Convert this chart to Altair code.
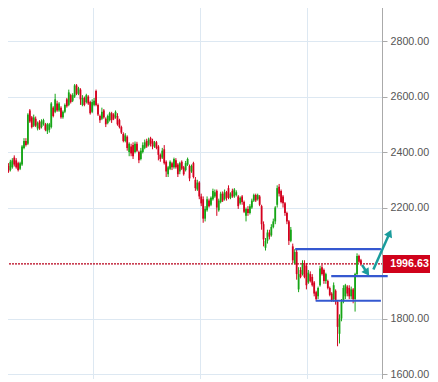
import altair as alt
import pandas as pd

# ---- candle data ----
opens = [
    2320, 2350, 2335, 2345, 2380, 2370, 2360, 2340, 2355, 2415,
    2440, 2430, 2550, 2525, 2495, 2520, 2485, 2510, 2490, 2500,
    2500, 2475, 2480, 2490, 2560, 2545, 2575, 2550, 2560, 2525,
    2545, 2590, 2570, 2605, 2585, 2600, 2640, 2610, 2625, 2570,
    2595, 2580, 2600, 2580, 2545, 2570, 2620, 2570, 2530, 2520,
    2550, 2520, 2505, 2515, 2540, 2535, 2525, 2530, 2515, 2490,
    2465, 2440, 2455, 2400, 2420, 2425, 2400, 2430, 2400, 2375,
    2400, 2415, 2440, 2425, 2450, 2440, 2420, 2435, 2420, 2390,
    2380, 2410, 2365, 2320, 2340, 2360, 2345, 2370, 2355, 2330,
    2365, 2345, 2335, 2355, 2350, 2330, 2360, 2300, 2265, 2290,
    2240, 2230, 2160, 2190, 2225, 2210, 2230, 2240, 2260, 2190,
    2220, 2250, 2230, 2255, 2270, 2235, 2260, 2240, 2245, 2240,
    2215, 2240, 2220, 2170, 2195, 2180, 2200, 2225, 2245, 2230,
    2240, 2205, 2140, 2055, 2080, 2110, 2100, 2130, 2150, 2210,
    2275, 2260, 2240, 2215, 2180, 2150, 2080, 2060, 2000, 2040,
    1905, 1975, 1960, 2000, 1990, 1930, 1960, 1950, 1930, 1895,
    1880, 1920, 1985, 1975, 1935, 1935, 1910, 1890, 1870, 1900,
    1860, 1745, 1800, 1860, 1880, 1915, 1910, 1880, 1905, 1870,
    1960, 2025, 2010,
]
closes = [
    2345, 2330, 2365, 2370, 2355, 2345, 2335, 2360, 2420, 2440,
    2425, 2535, 2510, 2490, 2525, 2495, 2505, 2485, 2510, 2515,
    2480, 2500, 2500, 2575, 2530, 2590, 2550, 2575, 2525, 2545,
    2570, 2565, 2615, 2580, 2605, 2640, 2610, 2630, 2590, 2595,
    2570, 2605, 2575, 2540, 2580, 2585, 2570, 2535, 2515, 2545,
    2525, 2500, 2530, 2540, 2515, 2520, 2545, 2500, 2490, 2470,
    2440, 2460, 2415, 2430, 2395, 2385, 2430, 2405, 2370, 2405,
    2425, 2435, 2420, 2445, 2430, 2420, 2435, 2415, 2390, 2375,
    2405, 2360, 2330, 2345, 2365, 2345, 2375, 2345, 2320, 2360,
    2340, 2320, 2360, 2375, 2305, 2350, 2310, 2270, 2290, 2240,
    2215, 2160, 2195, 2230, 2205, 2235, 2260, 2255, 2200, 2225,
    2250, 2225, 2255, 2235, 2235, 2250, 2240, 2265, 2255, 2205,
    2235, 2220, 2185, 2195, 2180, 2205, 2225, 2245, 2225, 2245,
    2210, 2140, 2085, 2080, 2110, 2095, 2130, 2150, 2200, 2270,
    2250, 2220, 2215, 2180, 2150, 2080, 2120, 2010, 2040, 1960,
    1960, 1950, 1995, 1950, 1920, 1965, 1935, 1920, 1890, 1870,
    1910, 1980, 1960, 1935, 1960, 1910, 1885, 1865, 1920, 1860,
    1770, 1800, 1860, 1910, 1920, 1890, 1880, 1905, 1870, 1960,
    2025, 2005, 1996.63,
]
highs = [
    2350, 2360, 2372, 2378, 2388, 2378, 2365, 2365, 2425, 2450,
    2450, 2540, 2555, 2530, 2535, 2528, 2510, 2515, 2518, 2520,
    2505, 2505, 2505, 2580, 2565, 2610, 2585, 2580, 2565, 2550,
    2575, 2595, 2625, 2610, 2612, 2645, 2645, 2635, 2630, 2605,
    2600, 2610, 2605, 2585, 2590, 2595, 2625, 2575, 2535, 2560,
    2555, 2525, 2535, 2545, 2545, 2540, 2550, 2540, 2520, 2495,
    2471, 2468, 2460, 2435, 2430, 2435, 2438, 2437, 2405, 2415,
    2435, 2445, 2448, 2452, 2455, 2448, 2440, 2440, 2425, 2395,
    2415, 2425, 2370, 2350, 2370, 2365, 2380, 2378, 2360, 2365,
    2370, 2350, 2368, 2380, 2355, 2355, 2365, 2310, 2300, 2295,
    2250, 2240, 2205, 2240, 2232, 2240, 2268, 2265, 2265, 2232,
    2257, 2258, 2265, 2260, 2280, 2255, 2268, 2270, 2262, 2245,
    2240, 2245, 2225, 2200, 2205, 2212, 2232, 2250, 2250, 2250,
    2245, 2210, 2150, 2090, 2120, 2120, 2140, 2160, 2205, 2280,
    2285, 2265, 2245, 2220, 2185, 2155, 2130, 2070, 2050, 2050,
    1985, 1985, 2010, 2010, 2000, 1975, 1970, 1960, 1935, 1900,
    1915, 1990, 1995, 1980, 1965, 1940, 1915, 1895, 1930, 1905,
    1865, 1815, 1870, 1920, 1925, 1920, 1920, 1915, 1910, 1965,
    2035, 2030, 2015,
]
lows = [
    2310, 2325, 2330, 2340, 2348, 2340, 2330, 2335, 2350, 2410,
    2420, 2425, 2505, 2485, 2490, 2490, 2478, 2480, 2485, 2495,
    2475, 2465, 2470, 2485, 2525, 2540, 2545, 2545, 2520, 2520,
    2540, 2560, 2565, 2575, 2580, 2595, 2605, 2605, 2570, 2565,
    2565, 2575, 2570, 2535, 2540, 2565, 2565, 2530, 2505, 2515,
    2520, 2490, 2500, 2510, 2505, 2515, 2520, 2495, 2485, 2465,
    2435, 2435, 2405, 2385, 2385, 2375, 2395, 2400, 2360, 2370,
    2395, 2410, 2415, 2420, 2420, 2410, 2415, 2410, 2370, 2365,
    2375, 2355, 2310, 2310, 2335, 2335, 2340, 2340, 2310, 2320,
    2335, 2315, 2330, 2350, 2295, 2325, 2305, 2260, 2260, 2230,
    2205, 2145, 2150, 2185, 2200, 2205, 2225, 2235, 2170, 2185,
    2215, 2220, 2225, 2225, 2230, 2230, 2235, 2235, 2240, 2195,
    2210, 2210, 2180, 2150, 2170, 2175, 2195, 2220, 2220, 2225,
    2205, 2120, 2060, 2045, 2070, 2085, 2095, 2125, 2140, 2200,
    2240, 2215, 2200, 2170, 2140, 2065, 2075, 2000, 1995, 1940,
    1895, 1945, 1955, 1945, 1905, 1925, 1930, 1915, 1880, 1865,
    1870, 1915, 1955, 1925, 1925, 1905, 1880, 1860, 1860, 1850,
    1700, 1710, 1790, 1855, 1870, 1880, 1870, 1870, 1855, 1825,
    1950, 2000, 1990,
]

# ---- annotations ----
last_price = 1996.63
level_prices = [2050, 1953, 1864]
level_from = [148.25, 166.75, 158.75]
level_to = [192.25, 195.75, 192.25]

arrow_x1 = [188.4, 182.6]
arrow_y1 = [1977, 1993]
arrow_x2 = [196.75, 185.15]
arrow_y2 = [2108, 1965]
arrow_angle = [25, 146]

y_ticks = [1600, 1800, 2200, 2400, 2600, 2800]
x_grid = [44.25, 99.25, 154.25]

n = len(closes)
df = pd.DataFrame({
    "i": list(range(n)),
    "open": opens,
    "close": closes,
    "high": highs,
    "low": lows,
})
df["dir"] = ["up" if c >= o else "down" for o, c in zip(opens, closes)]

levels = pd.DataFrame({"p": level_prices, "a": level_from, "b": level_to})
arrows = pd.DataFrame({"x1": arrow_x1, "y1": arrow_y1, "x2": arrow_x2,
                       "y2": arrow_y2, "ang": arrow_angle})

x_scale = alt.Scale(domain=[-0.75, 190.25], nice=False, zero=False)
y_scale = alt.Scale(domain=[1582, 2948], nice=False, zero=False)

x_axis = alt.Axis(values=x_grid, labels=False, ticks=False, title=None,
                  domainColor="#aaaaaa", gridColor="#dde8f2", grid=True)
y_axis = alt.Axis(orient="right", values=y_ticks, format=".2f", title=None,
                  labelFontSize=10.7, labelColor="#555555", labelFont="Liberation Sans",
                  tickSize=5, tickColor="#aaaaaa", domainColor="#aaaaaa",
                  gridColor="#dde8f2", grid=True, labelPadding=3)

X = lambda f: alt.X(f, scale=x_scale, axis=x_axis)
Y = lambda f: alt.Y(f, scale=y_scale, axis=y_axis)

color = alt.Color("dir:N", legend=None,
                  scale=alt.Scale(domain=["up", "down"], range=["#16a516", "#d4001e"]))

dotted = alt.Chart(pd.DataFrame({"p": [last_price]})).mark_rule(
    color="#b8001a", strokeWidth=1.2, strokeDash=[2, 1]
).encode(x=alt.value(0), x2=alt.value(382), y=Y("p:Q"))

base = alt.Chart(df)
wick = base.mark_rule(strokeWidth=1).encode(
    x=X("i:Q"), y=Y("low:Q"), y2="high:Q", color=color)
body = base.mark_bar(size=1.8).encode(
    x=X("i:Q"), y=Y("open:Q"), y2="close:Q", color=color)

lv = alt.Chart(levels).mark_rule(color="#3558d0", strokeWidth=2.2, clip=False).encode(
    x=X("a:Q"), x2="b:Q", y=Y("p:Q"))

arr_line = alt.Chart(arrows).mark_rule(color="#1a9c9c", strokeWidth=2.5, clip=False).encode(
    x=X("x1:Q"), y=Y("y1:Q"), x2="x2:Q", y2="y2:Q")
arr_head = alt.Chart(arrows).mark_point(
    shape="triangle-up", filled=True, color="#1a9c9c", opacity=1, size=75, clip=False
).encode(x=X("x2:Q"), y=Y("y2:Q"), angle=alt.Angle("ang:Q", scale=None))

box = alt.Chart(pd.DataFrame({"p": [last_price]})).mark_rule(
    color="#d0021b", strokeWidth=18, strokeCap="butt", clip=False
).encode(x=alt.value(383), x2=alt.value(446), y=Y("p:Q"))
label = alt.Chart(pd.DataFrame({"p": [last_price], "t": ["1996.63"]})).mark_text(
    color="white", fontWeight="bold", fontSize=10.7, font="Liberation Sans",
    align="center", baseline="middle", clip=False
).encode(x=alt.value(409.5), y=Y("p:Q"), text="t:N")

chart = alt.layer(dotted, wick, body, lv, arr_line, arr_head, box, label).properties(
    width=382, height=379,
    autosize=alt.AutoSizeParams(type="none"),
    padding={"left": -8, "top": -8, "right": 48, "bottom": 0},
    background="white",
).configure_view(stroke=None)

chart.save("out.html", embed_options={"renderer": "svg", "actions": False})
